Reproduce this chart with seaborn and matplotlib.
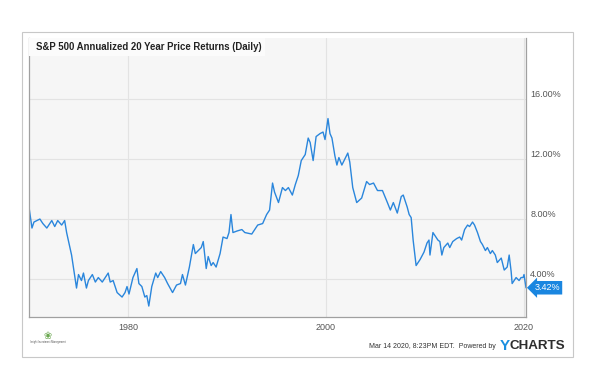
import matplotlib
matplotlib.use("Agg")
import matplotlib.pyplot as plt
import matplotlib.ticker as mticker
from matplotlib.patches import Rectangle
import seaborn as sns
import pandas as pd

# values (year, annualized 20y return %)
years = [1970.0, 1970.3, 1970.5, 1971.1, 1971.4, 1971.8, 1972.3, 1972.6, 1972.9, 1973.3,
         1973.6, 1973.8, 1974.3, 1974.6, 1974.8, 1975.0, 1975.3, 1975.5, 1975.8, 1976.0,
         1976.4, 1976.7, 1977.0, 1977.4, 1978.0, 1978.2, 1978.5, 1978.9, 1979.4, 1979.7,
         1979.9, 1980.1, 1980.5, 1980.9, 1981.1, 1981.4, 1981.7, 1981.9, 1982.1, 1982.4,
         1982.8, 1983.0, 1983.3, 1983.7, 1984.0, 1984.5, 1984.9, 1985.3, 1985.5, 1985.8,
         1986.2, 1986.6, 1986.8, 1987.1, 1987.4, 1987.6, 1987.9, 1988.1, 1988.4, 1988.6,
         1988.9, 1989.3, 1989.6, 1990.0, 1990.2, 1990.4, 1990.6, 1991.0, 1991.5, 1991.8,
         1992.5, 1993.1, 1993.6, 1994.0, 1994.3, 1994.6, 1994.8, 1995.2, 1995.6, 1995.9,
         1996.2, 1996.6, 1996.9, 1997.2, 1997.5, 1997.9, 1998.2, 1998.4, 1998.7, 1999.0,
         1999.4, 1999.7, 1999.9, 2000.2, 2000.4, 2000.6, 2000.9, 2001.1, 2001.3, 2001.6,
         2002.2, 2002.4, 2002.7, 2003.1, 2003.6, 2004.1, 2004.4, 2004.8, 2005.2, 2005.7,
         2006.2, 2006.5, 2006.8, 2007.2, 2007.6, 2007.8, 2008.2, 2008.4, 2008.6, 2008.8,
         2009.1, 2009.5, 2009.9, 2010.2, 2010.4, 2010.5, 2010.8, 2011.3, 2011.5, 2011.7,
         2011.9, 2012.3, 2012.5, 2012.8, 2013.2, 2013.5, 2013.7, 2014.0, 2014.3, 2014.5,
         2014.8, 2015.0, 2015.3, 2015.6, 2015.8, 2016.1, 2016.3, 2016.6, 2016.8, 2017.1,
         2017.3, 2017.7, 2018.0, 2018.3, 2018.5, 2018.7, 2018.8, 2019.2, 2019.5, 2019.7,
         2019.9, 2020.0, 2020.2]
returns = [8.8, 7.4, 7.8, 8.0, 7.7, 7.4, 7.9, 7.5, 7.9, 7.6,
           7.9, 7.1, 5.6, 4.3, 3.4, 4.3, 3.9, 4.4, 3.4, 3.9,
           4.3, 3.8, 4.1, 3.8, 4.4, 3.8, 3.9, 3.1, 2.8, 3.1,
           3.5, 3.0, 4.1, 4.7, 3.7, 3.5, 2.8, 2.9, 2.2, 3.5,
           4.4, 4.1, 4.5, 4.1, 3.7, 3.1, 3.6, 3.7, 4.3, 3.6,
           4.8, 6.3, 5.7, 5.9, 6.1, 6.5, 4.7, 5.5, 4.9, 5.1,
           4.8, 5.7, 6.8, 6.7, 7.1, 8.3, 7.1, 7.2, 7.3, 7.1,
           7.0, 7.6, 7.7, 8.3, 8.6, 10.4, 9.8, 9.1, 10.1, 9.9,
           10.1, 9.6, 10.3, 10.9, 11.9, 12.3, 13.4, 13.1, 11.9, 13.5,
           13.7, 13.8, 13.3, 14.7, 13.7, 13.4, 12.2, 11.6, 12.1, 11.6,
           12.4, 11.8, 10.1, 9.1, 9.4, 10.5, 10.3, 10.4, 9.9, 9.9,
           9.1, 8.6, 9.1, 8.4, 9.5, 9.6, 8.8, 8.3, 8.1, 6.6,
           4.9, 5.3, 5.8, 6.4, 6.6, 5.6, 7.1, 6.6, 6.5, 5.6,
           6.1, 6.4, 6.1, 6.5, 6.7, 6.8, 6.6, 7.3, 7.6, 7.5,
           7.8, 7.6, 7.1, 6.5, 6.3, 5.9, 6.1, 5.7, 5.9, 5.6,
           5.1, 5.4, 4.6, 4.8, 5.6, 4.5, 3.7, 4.1, 3.9, 4.1,
           4.1, 4.3, 3.42]

x_ticks = [1980, 2000, 2020]
y_ticks = [4, 8, 12, 16]
last_label = "3.42%"

df = pd.DataFrame({"year": years, "ret": returns})

sns.set_theme(style="white")
plt.rcParams["font.family"] = ["Liberation Sans", "DejaVu Sans"]

line_color = "#2a86dc"

fig = plt.figure(figsize=(5.89, 3.65), dpi=100)
fig.patch.set_facecolor("white")

# outer frame
fig.patches.append(Rectangle((22 / 589, 1 - 357 / 365), (573 - 22) / 589, (357 - 32) / 365,
                             transform=fig.transFigure, fill=False, edgecolor="#c8c8c8",
                             linewidth=0.8))

ax = fig.add_axes([29 / 589, 1 - 317 / 365, (526 - 29) / 589, (317 - 38) / 365])
ax.set_facecolor("#f6f6f6")

sns.lineplot(data=df, x="year", y="ret", ax=ax, color=line_color, linewidth=1.0)

ax.set_xlim(1970, 2020.2)
ax.set_ylim(1.47, 20.07)
ax.set_xticks(x_ticks)
ax.set_yticks(y_ticks)
ax.yaxis.set_major_formatter(mticker.FuncFormatter(lambda v, p: f"{v:.2f}%"))
ax.yaxis.tick_right()
ax.tick_params(axis="both", length=0, labelsize=6.5, labelcolor="#555555")
ax.tick_params(axis="y", pad=3)
ax.tick_params(axis="x", pad=4)
for lbl in ax.get_yticklabels():
    lbl.set_va("bottom")
ax.set_xlabel("")
ax.set_ylabel("")
ax.grid(True, color="#e3e3e3", linewidth=0.8)
ax.set_axisbelow(True)

for side in ["left", "bottom", "right"]:
    ax.spines[side].set_color("#a0a0a0")
    ax.spines[side].set_linewidth(0.9)
ax.spines["top"].set_visible(False)

# title box inside the plot
ax.add_patch(Rectangle((0, 1 - 18 / 279), (265 - 29) / 497, 18 / 279, transform=ax.transAxes,
                       facecolor="#fbfbfb", edgecolor="none", zorder=3))
ax.text(7 / 497, 1 - 9 / 279, "S&P 500 Annualized 20 Year Price Returns (Daily)",
        transform=ax.transAxes, fontsize=6.9, fontweight="bold", color="#222222",
        va="center", ha="left", zorder=4)

# last value flag
ax.annotate(last_label, xy=(years[-1], returns[-1]), xytext=(6, 0), textcoords="offset points",
            ha="left", va="center", fontsize=6.5, color="white", annotation_clip=False,
            bbox=dict(boxstyle="larrow,pad=0.25", facecolor="#1a86e0", edgecolor="none"))

# footer
fig.text(496 / 589, 1 - 347 / 365, "Mar 14 2020, 8:23PM EDT.  Powered by", ha="right",
         va="center", fontsize=5.0, color="#333333")
fig.text(500 / 589, 1 - 346 / 365, "Y", ha="left", va="center", fontsize=11,
         fontweight="bold", color="#1a8fe0")
fig.text(510 / 589, 1 - 346 / 365, "CHARTS", ha="left", va="center", fontsize=9.6,
         fontweight="bold", color="#2d2d2d")

# small logo placeholder
fig.text(48 / 589, 1 - 336 / 365, "\u2740", ha="center", va="center", fontsize=7,
         color="#6aa84f", family=["DejaVu Sans"])
fig.text(48 / 589, 1 - 342 / 365, "Insight Investment Management", ha="center",
         va="center", fontsize=1.8, color="#555555")

fig.savefig("out.png", dpi=100)
